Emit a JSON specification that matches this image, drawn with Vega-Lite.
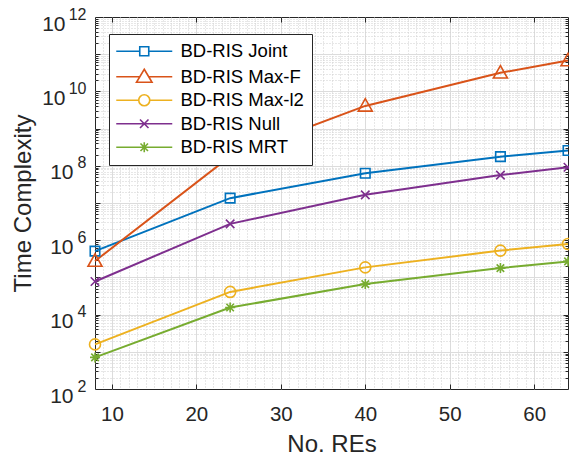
{
  "$schema": "https://vega.github.io/schema/vega-lite/v6.json",
  "width": 473,
  "height": 372,
  "autosize": {"type": "none"},
  "padding": {"left": 95, "top": 17, "right": 1, "bottom": 67},
  "config": {
    "font": "Liberation Sans",
    "view": {"stroke": "#262626", "strokeWidth": 1},
    "axis": {"domain": false, "labelColor": "#262626", "titleColor": "#262626", "titleFontWeight": "normal", "tickColor": "#262626", "tickWidth": 1}
  },
  "data": {
    "values": [
      {"series": "BD-RIS Joint", "x": 8, "y": 510000},
      {"series": "BD-RIS Joint", "x": 24, "y": 13500000},
      {"series": "BD-RIS Joint", "x": 40, "y": 63000000},
      {"series": "BD-RIS Joint", "x": 56, "y": 176000000},
      {"series": "BD-RIS Joint", "x": 64, "y": 257000000},
      {"series": "BD-RIS Max-F", "x": 8, "y": 275000},
      {"series": "BD-RIS Max-F", "x": 24, "y": 178000000},
      {"series": "BD-RIS Max-F", "x": 40, "y": 4070000000},
      {"series": "BD-RIS Max-F", "x": 56, "y": 31600000000},
      {"series": "BD-RIS Max-F", "x": 64, "y": 67600000000},
      {"series": "BD-RIS Max-l2", "x": 8, "y": 1580},
      {"series": "BD-RIS Max-l2", "x": 24, "y": 40700},
      {"series": "BD-RIS Max-l2", "x": 40, "y": 186000},
      {"series": "BD-RIS Max-l2", "x": 56, "y": 525000},
      {"series": "BD-RIS Max-l2", "x": 64, "y": 794000},
      {"series": "BD-RIS Null", "x": 8, "y": 77600},
      {"series": "BD-RIS Null", "x": 24, "y": 2750000},
      {"series": "BD-RIS Null", "x": 40, "y": 16600000},
      {"series": "BD-RIS Null", "x": 56, "y": 56200000},
      {"series": "BD-RIS Null", "x": 64, "y": 91200000},
      {"series": "BD-RIS MRT", "x": 8, "y": 708},
      {"series": "BD-RIS MRT", "x": 24, "y": 15500},
      {"series": "BD-RIS MRT", "x": 40, "y": 66000},
      {"series": "BD-RIS MRT", "x": 56, "y": 178000},
      {"series": "BD-RIS MRT", "x": 64, "y": 269000}
    ]
  },
  "resolve": {"axis": {"x": "independent", "y": "independent"}},
  "layer": [
    {
      "mark": {"type": "point", "opacity": 0},
      "encoding": {
        "x": {"field": "x", "type": "quantitative", "scale": {"domain": [8, 64], "nice": false, "zero": false},
          "axis": {"orient": "bottom", "values": [9,11,12,13,14,15,16,17,18,19,21,22,23,24,25,26,27,28,29,31,32,33,34,35,36,37,38,39,41,42,43,44,45,46,47,48,49,51,52,53,54,55,56,57,58,59,61,62,63], "labels": false, "ticks": false, "grid": true, "gridColor": "#cfcfcf", "gridDash": [1, 2], "gridWidth": 1, "title": null}},
        "y": {"field": "y", "type": "quantitative", "scale": {"type": "log", "domain": [100, 1000000000000], "nice": false},
          "axis": {"orient": "left", "values": [2e2,3e2,4e2,5e2,6e2,7e2,8e2,9e2,2e3,3e3,4e3,5e3,6e3,7e3,8e3,9e3,2e4,3e4,4e4,5e4,6e4,7e4,8e4,9e4,2e5,3e5,4e5,5e5,6e5,7e5,8e5,9e5,2e6,3e6,4e6,5e6,6e6,7e6,8e6,9e6,2e7,3e7,4e7,5e7,6e7,7e7,8e7,9e7,2e8,3e8,4e8,5e8,6e8,7e8,8e8,9e8,2e9,3e9,4e9,5e9,6e9,7e9,8e9,9e9,2e10,3e10,4e10,5e10,6e10,7e10,8e10,9e10,2e11,3e11,4e11,5e11,6e11,7e11,8e11,9e11], "labels": false, "ticks": true, "tickSize": -3, "grid": true, "gridColor": "#cfcfcf", "gridDash": [1, 2], "gridWidth": 1, "title": null}}
      }
    },
    {
      "mark": {"type": "point", "opacity": 0},
      "encoding": {
        "x": {"field": "x", "type": "quantitative", "axis": null},
        "y": {"field": "y", "type": "quantitative", "scale": {"type": "log"},
          "axis": {"orient": "right", "values": [2e2,3e2,4e2,5e2,6e2,7e2,8e2,9e2,2e3,3e3,4e3,5e3,6e3,7e3,8e3,9e3,2e4,3e4,4e4,5e4,6e4,7e4,8e4,9e4,2e5,3e5,4e5,5e5,6e5,7e5,8e5,9e5,2e6,3e6,4e6,5e6,6e6,7e6,8e6,9e6,2e7,3e7,4e7,5e7,6e7,7e7,8e7,9e7,2e8,3e8,4e8,5e8,6e8,7e8,8e8,9e8,2e9,3e9,4e9,5e9,6e9,7e9,8e9,9e9,2e10,3e10,4e10,5e10,6e10,7e10,8e10,9e10,2e11,3e11,4e11,5e11,6e11,7e11,8e11,9e11], "labels": false, "ticks": true, "tickSize": -3, "grid": false, "title": null}}
      }
    },
    {
      "mark": {"type": "point", "opacity": 0},
      "encoding": {
        "x": {"field": "x", "type": "quantitative",
          "axis": {"orient": "bottom", "values": [10, 20, 30, 40, 50, 60], "labels": false, "ticks": true, "tickSize": -5, "grid": true, "gridColor": "#dcdcdc", "gridWidth": 1, "title": null}},
        "y": {"field": "y", "type": "quantitative", "scale": {"type": "log"},
          "axis": {"orient": "left", "values": [1e3,1e4,1e5,1e6,1e7,1e8,1e9,1e10,1e11], "labels": false, "ticks": true, "tickSize": -5, "grid": true, "gridColor": "#dcdcdc", "gridWidth": 1, "title": null}}
      }
    },
    {
      "mark": {"type": "point", "opacity": 0},
      "encoding": {
        "x": {"field": "x", "type": "quantitative",
          "axis": {"orient": "top", "values": [10, 20, 30, 40, 50, 60], "labels": false, "ticks": true, "tickSize": -5, "grid": false, "title": null}},
        "y": {"field": "y", "type": "quantitative", "scale": {"type": "log"},
          "axis": {"orient": "right", "values": [1e3,1e4,1e5,1e6,1e7,1e8,1e9,1e10,1e11], "labels": false, "ticks": true, "tickSize": -5, "grid": false, "title": null}}
      }
    },
    {
      "mark": {"type": "point", "opacity": 0},
      "encoding": {
        "x": {"field": "x", "type": "quantitative", "axis": null},
        "y": {"field": "y", "type": "quantitative", "scale": {"type": "log"},
          "axis": {"orient": "left", "values": [1e2,1e4,1e6,1e8,1e10,1e12], "labelExpr": "'' + round(log(datum.value) / LN10)", "labelFontSize": 16, "labelAlign": "right", "labelPadding": 9, "labelOffset": -3, "ticks": false, "grid": false, "title": null, "labelOverlap": false, "labelBound": false, "labelFlush": false}}
      }
    },
    {
      "mark": {"type": "point", "opacity": 0},
      "encoding": {
        "x": {"field": "x", "type": "quantitative", "axis": null},
        "y": {"field": "y", "type": "quantitative", "scale": {"type": "log"},
          "axis": {"orient": "left", "values": [1e10,1e12], "labelExpr": "'10'", "labelFontSize": 21, "labelAlign": "right", "labelPadding": 30, "labelOffset": 7, "ticks": false, "grid": false, "title": null, "labelOverlap": false, "labelBound": false, "labelFlush": false}}
      }
    },
    {
      "mark": {"type": "line", "strokeWidth": 2},
      "encoding": {
        "x": {"field": "x", "type": "quantitative",
          "axis": {"orient": "bottom", "values": [10, 20, 30, 40, 50, 60], "labelFontSize": 20.5, "labelPadding": 15, "ticks": false, "grid": false, "title": "No. REs", "titleFontSize": 24, "titlePadding": 8, "labelFlush": false}},
        "y": {"field": "y", "type": "quantitative", "scale": {"type": "log"},
          "axis": {"orient": "left", "values": [1e2,1e4,1e6,1e8], "labelExpr": "'10'", "labelFontSize": 21, "labelAlign": "right", "labelPadding": 22, "labelOffset": 7, "ticks": false, "grid": false, "title": "Time Complexity", "titleFontSize": 24, "titlePadding": 14, "labelOverlap": false, "labelBound": false, "labelFlush": false}},
        "color": {"field": "series", "type": "nominal",
          "scale": {"domain": ["BD-RIS Joint", "BD-RIS Max-F", "BD-RIS Max-l2", "BD-RIS Null", "BD-RIS MRT"], "range": ["#0072BD", "#D95319", "#EDB120", "#7E2F8E", "#77AC30"]},
          "legend": {"title": null, "orient": "none", "legendX": 14, "legendY": 17, "padding": 8, "symbolOffset": 18, "labelOffset": 27, "rowPadding": 4.5, "labelFontSize": 18.5, "labelColor": "#000000", "strokeColor": "#262626", "fillColor": "white", "cornerRadius": 0, "symbolSize": 100, "symbolStrokeWidth": 1.6, "labelLimit": 300,
            "encode": {"symbols": {"update": {
              "fill": {"value": "transparent"},
              "strokeWidth": {"value": 1.6},
              "opacity": {"value": 1},
              "shape": {"signal": "datum.value === 'BD-RIS Joint' ? 'M-5.6,0H-0.9M0.9,0H5.6M-0.9,-0.9H0.9V0.9H-0.9Z' : datum.value === 'BD-RIS Max-F' ? 'M-5.6,0H-0.9M0.9,0H5.6M0,-1.5L1.55,1.1L-1.55,1.1Z' : datum.value === 'BD-RIS Max-l2' ? 'M-5.6,0H-1.1M1.1,0H5.6M-1.1,0A1.1,1.1 0 1,1 1.1,0A1.1,1.1 0 1,1 -1.1,0' : datum.value === 'BD-RIS Null' ? 'M-5.6,0H5.6M-0.85,-0.85L0.85,0.85M-0.85,0.85L0.85,-0.85' : 'M-5.6,0H5.6M0,-1V1M-0.75,-0.75L0.75,0.75M-0.75,0.75L0.75,-0.75'"}
            }}}}
        }
      }
    },
    {
      "transform": [{"filter": "datum.series === 'BD-RIS Joint'"}],
      "mark": {"type": "point", "filled": false, "strokeWidth": 1.6, "size": 100, "opacity": 1, "shape": "M-0.95,-0.95H0.95V0.95H-0.95Z"},
      "encoding": {
        "x": {"field": "x", "type": "quantitative", "axis": null},
        "y": {"field": "y", "type": "quantitative", "scale": {"type": "log"}, "axis": null},
        "color": {"field": "series", "type": "nominal"}
      }
    },
    {
      "transform": [{"filter": "datum.series === 'BD-RIS Max-F'"}],
      "mark": {"type": "point", "filled": false, "strokeWidth": 1.6, "size": 100, "opacity": 1, "shape": "M0,-1.45L1.4,1.05L-1.4,1.05Z"},
      "encoding": {
        "x": {"field": "x", "type": "quantitative", "axis": null},
        "y": {"field": "y", "type": "quantitative", "scale": {"type": "log"}, "axis": null},
        "color": {"field": "series", "type": "nominal"}
      }
    },
    {
      "transform": [{"filter": "datum.series === 'BD-RIS Max-l2'"}],
      "mark": {"type": "point", "filled": false, "strokeWidth": 1.6, "size": 100, "opacity": 1, "shape": "M-1.1,0A1.1,1.1 0 1,1 1.1,0A1.1,1.1 0 1,1 -1.1,0"},
      "encoding": {
        "x": {"field": "x", "type": "quantitative", "axis": null},
        "y": {"field": "y", "type": "quantitative", "scale": {"type": "log"}, "axis": null},
        "color": {"field": "series", "type": "nominal"}
      }
    },
    {
      "transform": [{"filter": "datum.series === 'BD-RIS Null'"}],
      "mark": {"type": "point", "filled": false, "strokeWidth": 1.6, "size": 100, "opacity": 1, "shape": "M-0.85,-0.85L0.85,0.85M-0.85,0.85L0.85,-0.85"},
      "encoding": {
        "x": {"field": "x", "type": "quantitative", "axis": null},
        "y": {"field": "y", "type": "quantitative", "scale": {"type": "log"}, "axis": null},
        "color": {"field": "series", "type": "nominal"}
      }
    },
    {
      "transform": [{"filter": "datum.series === 'BD-RIS MRT'"}],
      "mark": {"type": "point", "filled": false, "strokeWidth": 1.6, "size": 100, "opacity": 1, "shape": "M-1,0H1M0,-1V1M-0.75,-0.75L0.75,0.75M-0.75,0.75L0.75,-0.75"},
      "encoding": {
        "x": {"field": "x", "type": "quantitative", "axis": null},
        "y": {"field": "y", "type": "quantitative", "scale": {"type": "log"}, "axis": null},
        "color": {"field": "series", "type": "nominal"}
      }
    }
  ]
}
